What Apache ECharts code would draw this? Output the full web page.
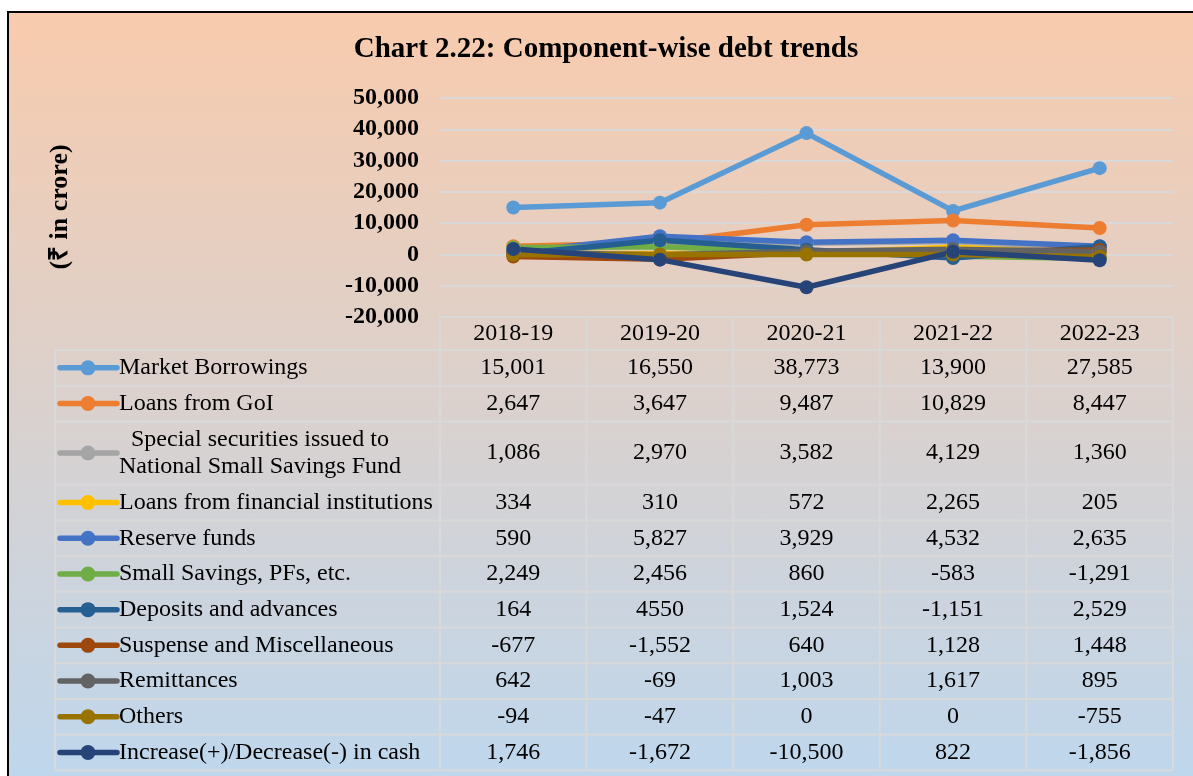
<!DOCTYPE html>
<html>
<head>
<meta charset="utf-8">
<title>Chart 2.22: Component-wise debt trends</title>
<style>
  html, body { margin: 0; padding: 0; background: #fff; overflow: hidden; }
  #frame {
    position: absolute; left: 7px; top: 11px; width: 1200px; height: 780px;
    border: 2px solid #000;
    background: linear-gradient(#F8CBAD, #BDD7EE);
  }
  #chart { position: absolute; left: 0; top: 0; width: 1193px; height: 776px; }
</style>
<script src="https://cdn.jsdelivr.net/npm/echarts@6/dist/echarts.min.js"></script>
</head>
<body>
<div id="frame"></div>
<div id="chart"></div>
<script>
const years = ['2018-19', '2019-20', '2020-21', '2021-22', '2022-23'];

const seriesNames = [
  'Market Borrowings',
  'Loans from GoI',
  '\u00a0\u00a0Special securities issued to\nNational Small Savings Fund',
  'Loans from financial institutions',
  'Reserve funds',
  'Small Savings, PFs, etc.',
  'Deposits and advances',
  'Suspense and Miscellaneous',
  'Remittances',
  'Others',
  'Increase(+)/Decrease(-) in cash',
];

const colors = [
  '#5B9BD5', '#ED7D31', '#A5A5A5', '#FFC000', '#4472C4', '#70AD47',
  '#255E91', '#9E480E', '#636363', '#997300', '#264478',
];

const marketBorrowings = [15001, 16550, 38773, 13900, 27585];
const loansFromGoI = [2647, 3647, 9487, 10829, 8447];
const specialSecuritiesNSSF = [1086, 2970, 3582, 4129, 1360];
const loansFromFinInst = [334, 310, 572, 2265, 205];
const reserveFunds = [590, 5827, 3929, 4532, 2635];
const smallSavings = [2249, 2456, 860, -583, -1291];
const depositsAdvances = [164, 4550, 1524, -1151, 2529];
const suspenseMisc = [-677, -1552, 640, 1128, 1448];
const remittances = [642, -69, 1003, 1617, 895];
const others = [-94, -47, 0, 0, -755];
const cashChange = [1746, -1672, -10500, 822, -1856];

const seriesData = [
  marketBorrowings, loansFromGoI, specialSecuritiesNSSF, loansFromFinInst,
  reserveFunds, smallSavings, depositsAdvances, suspenseMisc, remittances,
  others, cashChange,
];

// the source table prints this one value without a thousands separator
const labelOverrides = { '6-1': '4550' };

const yTicks = { min: -20000, max: 50000, interval: 10000 };

const FONT = '"Liberation Serif", "Times New Roman", serif';
const GRID_LEFT = 440;
const GRID_RIGHT = 1173;
const GRID_TOP = 98;
const GRID_BOTTOM = 317;
const TABLE_LEFT = 55;
const HEAD_BOTTOM = 350;
const ROW_H = 35.7;
const LINE_H = 27.6;
const BORDER = '#D9D9D9';

const fmt = (v) => v.toLocaleString('en-US');

function tableGraphics() {
  const els = [];
  const colW = (GRID_RIGHT - GRID_LEFT) / years.length;
  const line = (x1, y1, x2, y2) => ({
    type: 'line', silent: true,
    shape: { x1, y1, x2, y2 },
    style: { stroke: BORDER, lineWidth: 2 },
  });

  // header band top/bottom
  els.push(line(GRID_LEFT, GRID_BOTTOM, GRID_RIGHT, GRID_BOTTOM));
  els.push(line(TABLE_LEFT, HEAD_BOTTOM, GRID_RIGHT, HEAD_BOTTOM));

  let y = HEAD_BOTTOM;
  seriesNames.forEach((name, i) => {
    const nLines = name.split('\n').length;
    const h = ROW_H + LINE_H * (nLines - 1);
    const cy = y + h / 2;

    // legend key
    els.push({
      type: 'line', silent: true,
      shape: { x1: 60, y1: cy, x2: 117, y2: cy },
      style: { stroke: colors[i], lineWidth: 5.5, lineCap: 'round' },
    });
    els.push({
      type: 'circle', silent: true,
      shape: { cx: 88, cy, r: 7.5 },
      style: { fill: colors[i] },
    });
    els.push({
      type: 'text', silent: true, x: 119, y: cy,
      style: {
        text: name, font: '24px ' + FONT, fill: '#000',
        textAlign: 'left', textVerticalAlign: 'middle', lineHeight: LINE_H,
      },
    });

    seriesData[i].forEach((v, j) => {
      els.push({
        type: 'text', silent: true, x: GRID_LEFT + colW * (j + 0.5), y: cy,
        style: {
          text: labelOverrides[i + '-' + j] || fmt(v),
          font: '24px ' + FONT, fill: '#000',
          textAlign: 'center', textVerticalAlign: 'middle',
        },
      });
    });

    y += h;
    els.push(line(TABLE_LEFT, y, GRID_RIGHT, y));
  });

  // verticals
  els.push(line(TABLE_LEFT, HEAD_BOTTOM, TABLE_LEFT, y));
  for (let k = 0; k <= years.length; k++) {
    const x = GRID_LEFT + colW * k;
    els.push(line(x, GRID_BOTTOM, x, y));
  }
  return els;
}

const chart = echarts.init(document.getElementById('chart'), null, { renderer: 'canvas' });

chart.setOption({
  backgroundColor: 'transparent',
  animation: false,
  textStyle: { fontFamily: FONT },
  grid: {
    left: GRID_LEFT,
    right: 1193 - GRID_RIGHT,
    top: GRID_TOP,
    bottom: 776 - GRID_BOTTOM,
    containLabel: false,
  },
  xAxis: {
    type: 'category',
    data: years,
    boundaryGap: true,
    axisLine: { show: false },
    axisTick: { show: false },
    axisLabel: { color: '#000', fontSize: 24, fontFamily: FONT, margin: 5 },
  },
  yAxis: {
    type: 'value',
    min: yTicks.min,
    max: yTicks.max,
    interval: yTicks.interval,
    axisLine: { show: false },
    axisTick: { show: false },
    splitLine: { lineStyle: { color: BORDER, width: 2 } },
    axisLabel: {
      color: '#000', fontSize: 24, fontWeight: 'bold', fontFamily: FONT,
      margin: 21, formatter: fmt,
    },
  },
  graphic: [
    {
      type: 'text', silent: true, x: 606, y: 50,
      style: {
        text: 'Chart 2.22: Component-wise debt trends',
        font: 'bold 29px ' + FONT, fill: '#000',
        textAlign: 'center', textVerticalAlign: 'middle',
      },
    },
    {
      type: 'text', silent: true, x: 60, y: 207, rotation: Math.PI / 2,
      style: {
        text: '(\u20b9 in crore)',
        font: 'bold 26px ' + FONT, fill: '#000',
        textAlign: 'center', textVerticalAlign: 'middle',
      },
    },
    ...tableGraphics(),
  ],
  series: seriesNames.map((name, i) => ({
    name,
    type: 'line',
    data: seriesData[i],
    symbol: 'circle',
    symbolSize: 14,
    lineStyle: { color: colors[i], width: 5.5 },
    itemStyle: { color: colors[i] },
    emphasis: { disabled: true },
  })),
});
</script>
</body>
</html>
